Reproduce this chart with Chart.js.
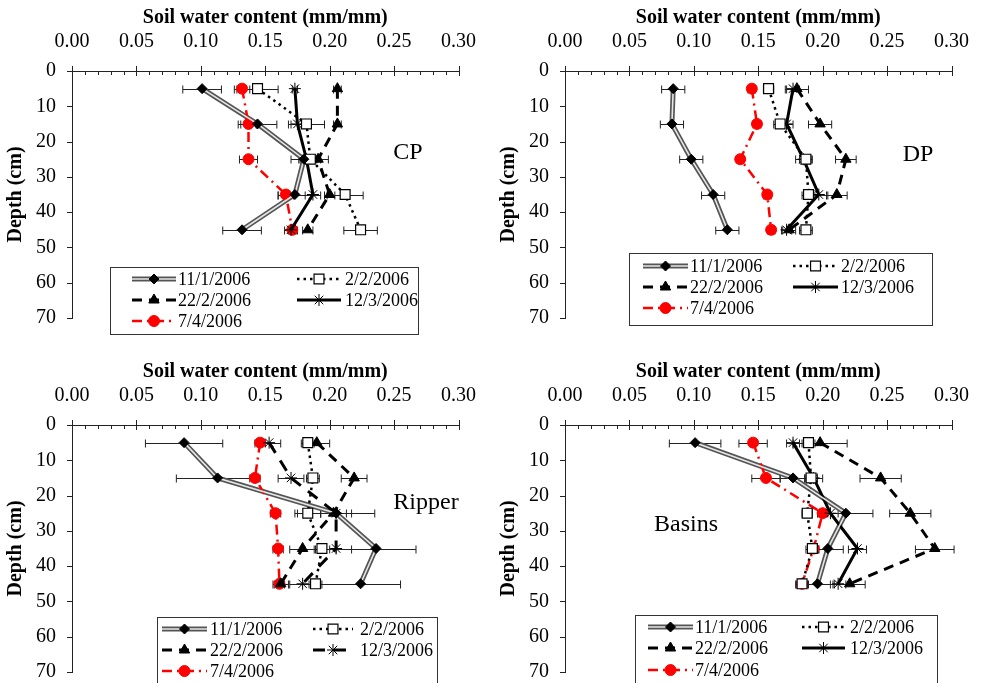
<!DOCTYPE html>
<html>
<head>
<meta charset="utf-8">
<script src="https://cdn.jsdelivr.net/npm/chart.js@4.4.1/dist/chart.umd.min.js"></script>
<style>
html, body { margin: 0; padding: 0; background: #fff; overflow: hidden; width: 982px; height: 683px; }
.panel { position: absolute; width: 493px; height: 354px; }
</style>
</head>
<body>
<div class="panel" style="left:0;top:0"><canvas id="cp" width="493" height="354"></canvas></div>
<div class="panel" style="left:493px;top:0"><canvas id="dp" width="493" height="354"></canvas></div>
<div class="panel" style="left:0;top:354px"><canvas id="rp" width="493" height="354"></canvas></div>
<div class="panel" style="left:493px;top:354px"><canvas id="bs" width="493" height="354"></canvas></div>
<script>
const depths = [5, 15, 25, 35, 45];
const dates = ['11/1/2006', '2/2/2006', '22/2/2006', '12/3/2006', '7/4/2006'];
const swcTicks = [0, 0.05, 0.10, 0.15, 0.20, 0.25, 0.30];
const depthTicks = [0, 10, 20, 30, 40, 50, 60, 70];

// rows follow dates order: 11/1, 2/2, 22/2, 12/3, 7/4 ; columns follow depths
const cpSwc = [
    [0.101, 0.144, 0.180, 0.173, 0.132],
    [0.144, 0.182, 0.185, 0.212, 0.224],
    [0.206, 0.206, 0.191, 0.200, 0.183],
    [0.173, 0.175, 0.182, 0.187, 0.170],
    [0.132, 0.137, 0.137, 0.166, 0.171]
];
const cpErr = [
    [0.015, 0.015, 0.010, 0.013, 0.015],
    [0.016, 0.014, 0.008, 0.014, 0.013],
    [0.003, 0.003, 0.008, 0.004, 0.004],
    [0.002, 0.005, 0.006, 0.006, 0.005],
    [0.006, 0.006, 0.007, 0.006, 0.003]
];
const dpSwc = [
    [0.084, 0.083, 0.098, 0.115, 0.126],
    [0.158, 0.167, 0.187, 0.189, 0.187],
    [0.180, 0.198, 0.218, 0.211, 0.174],
    [0.177, 0.172, 0.185, 0.197, 0.172],
    [0.145, 0.149, 0.136, 0.157, 0.160]
];
const dpErr = [
    [0.009, 0.009, 0.009, 0.009, 0.009],
    [0.004, 0.005, 0.005, 0.005, 0.005],
    [0.009, 0.009, 0.008, 0.008, 0.005],
    [0.005, 0.005, 0.006, 0.007, 0.004],
    [0.003, 0.003, 0.003, 0.003, 0.003]
];
const rpSwc = [
    [0.087, 0.113, 0.205, 0.236, 0.224],
    [0.183, 0.187, 0.183, 0.194, 0.189],
    [0.190, 0.219, 0.203, 0.179, 0.162],
    [0.153, 0.170, 0.205, 0.205, 0.179],
    [0.146, 0.142, 0.158, 0.160, 0.161]
];
const rpErr = [
    [0.030, 0.032, 0.030, 0.031, 0.031],
    [0.005, 0.005, 0.010, 0.006, 0.005],
    [0.010, 0.010, 0.010, 0.010, 0.006],
    [0.009, 0.010, 0.012, 0.012, 0.010],
    [0.004, 0.004, 0.004, 0.004, 0.004]
];
const bsSwc = [
    [0.101, 0.177, 0.218, 0.204, 0.196],
    [0.189, 0.191, 0.188, 0.192, 0.184],
    [0.198, 0.245, 0.268, 0.287, 0.221],
    [0.177, 0.193, 0.206, 0.227, 0.212],
    [0.146, 0.156, 0.200, 0.193, 0.184]
];
const bsErr = [
    [0.020, 0.010, 0.021, 0.012, 0.012],
    [0.005, 0.005, 0.004, 0.005, 0.005],
    [0.021, 0.016, 0.016, 0.015, 0.012],
    [0.005, 0.007, 0.006, 0.007, 0.006],
    [0.011, 0.011, 0.004, 0.004, 0.004]
];

const serif = '"Liberation Serif", "Times New Roman", serif';

function styles(dash12) {
    return [
        {borderColor: '#e6e6e6', borderWidth: 1.6, pointStyle: 'rectRot', pointRadius: 5, pointBackgroundColor: '#000', pointBorderColor: '#000', pointBorderWidth: 1},
        {borderColor: '#000', borderWidth: 2.5, borderDash: [2.5, 4], pointStyle: 'rect', pointRadius: 7, pointBackgroundColor: '#fff', pointBorderColor: '#000', pointBorderWidth: 1.2},
        {borderColor: '#000', borderWidth: 3, borderDash: [10, 7], pointStyle: 'triangle', pointRadius: 6, pointBackgroundColor: '#000', pointBorderColor: '#000', pointBorderWidth: 1},
        {borderColor: '#000', borderWidth: 3, borderDash: dash12 ? [12, 9] : [], pointStyle: 'star', pointRadius: 6, pointBackgroundColor: '#000', pointBorderColor: '#000', pointBorderWidth: 1},
        {borderColor: '#ff0000', borderWidth: 2.5, borderDash: [10, 5, 2, 5], pointStyle: 'circle', pointRadius: 5.5, pointBackgroundColor: '#ff0000', pointBorderColor: '#ff0000', pointBorderWidth: 1}
    ];
}

const errorBars = {
    id: 'errorBars',
    beforeDatasetsDraw(chart) {
        const ctx = chart.ctx, xs = chart.scales.x, ys = chart.scales.y;
        ctx.save();
        ctx.strokeStyle = '#222';
        ctx.lineWidth = 1;
        ctx.setLineDash([]);
        chart.data.datasets.forEach(ds => {
            if (!ds.errs) return;
            ds.data.forEach((p, i) => {
                const y = Math.round(ys.getPixelForValue(p.y)) + 0.5;
                const x1 = xs.getPixelForValue(p.x - ds.errs[i]);
                const x2 = xs.getPixelForValue(p.x + ds.errs[i]);
                ctx.beginPath();
                ctx.moveTo(x1, y); ctx.lineTo(x2, y);
                ctx.moveTo(x1, y - 4); ctx.lineTo(x1, y + 4);
                ctx.moveTo(x2, y - 4); ctx.lineTo(x2, y + 4);
                ctx.stroke();
            });
        });
        ctx.restore();
    }
};

const tickMarks = {
    id: 'tickMarks',
    afterDraw(chart) {
        const ctx = chart.ctx, xs = chart.scales.x, ys = chart.scales.y;
        const top = chart.chartArea.top, left = chart.chartArea.left;
        ctx.save();
        ctx.strokeStyle = '#222';
        ctx.lineWidth = 1;
        ctx.beginPath();
        for (let i = 0; i <= 30; i++) {
            const x = Math.round(xs.getPixelForValue(i / 100)) + 0.5;
            if (i % 5 == 0) { ctx.moveTo(x, top - 5); ctx.lineTo(x, top + 5); }
            else { ctx.moveTo(x, top); ctx.lineTo(x, top + 4); }
        }
        depthTicks.forEach(d => {
            const y = Math.round(ys.getPixelForValue(d)) + 0.5;
            ctx.moveTo(left - 5, y); ctx.lineTo(left, y);
        });
        ctx.stroke();
        ctx.restore();
    }
};

const boxLegend = {
    id: 'boxLegend',
    afterDraw(chart, args, o) {
        const ctx = chart.ctx;
        const sets = chart.data.datasets;
        ctx.save();
        ctx.fillStyle = '#fff';
        ctx.fillRect(o.box[0], o.box[1], o.box[2] - o.box[0], o.box[3] - o.box[1]);
        ctx.strokeStyle = '#333';
        ctx.lineWidth = 1;
        ctx.strokeRect(o.box[0] + 0.5, o.box[1] + 0.5, o.box[2] - o.box[0], o.box[3] - o.box[1]);
        ctx.font = '18px ' + serif;
        ctx.textBaseline = 'middle';
        dates.forEach((d, k) => {
            const col = o.cols[k % 2], y = o.rows[Math.floor(k / 2)];
            const ds = sets.find(s => s.label == d);
            const lines = k == 0 ? [sets.find(s => s.label == 'outline'), ds] : [ds];
            lines.forEach(l => {
                ctx.setLineDash(l.borderDash || []);
                ctx.lineWidth = l.borderWidth;
                ctx.strokeStyle = l.borderColor;
                ctx.beginPath();
                ctx.moveTo(col[0], y); ctx.lineTo(col[1], y);
                ctx.stroke();
            });
            ctx.setLineDash([]);
            ctx.fillStyle = ds.pointBackgroundColor;
            ctx.strokeStyle = ds.pointBorderColor;
            ctx.lineWidth = ds.pointBorderWidth;
            Chart.helpers.drawPoint(ctx, {pointStyle: ds.pointStyle, radius: ds.pointRadius, borderWidth: ds.pointBorderWidth, rotation: 0}, (col[0] + col[1]) / 2, y);
            ctx.fillStyle = '#000';
            ctx.fillText(d, col[2], y + 1);
        });
        ctx.restore();
    }
};

const panelTag = {
    id: 'panelTag',
    afterDraw(chart, args, o) {
        const ctx = chart.ctx;
        ctx.save();
        ctx.font = '24px ' + serif;
        ctx.fillStyle = '#000';
        ctx.textAlign = 'center';
        ctx.textBaseline = 'middle';
        ctx.fillText(o.text, o.x, o.y);
        ctx.restore();
    }
};

function makePanel(id, swc, err, tag, legend, dash12) {
    const st = styles(dash12);
    const sets = dates.map((d, k) => Object.assign({
        label: d,
        data: depths.map((dep, i) => ({x: swc[k][i], y: dep})),
        errs: err[k],
        tension: 0,
        fill: false
    }, st[k]));
    sets.push({label: 'outline', data: sets[0].data, borderColor: '#555', borderWidth: 5, pointRadius: 0, tension: 0, fill: false});

    new Chart(document.getElementById(id), {
        type: 'line',
        data: {datasets: sets},
        options: {
            responsive: false,
            animation: false,
            events: [],
            devicePixelRatio: 1,
            layout: {padding: {left: 0, top: 0, right: 30, bottom: 36}},
            plugins: {
                legend: {display: false},
                tooltip: {enabled: false},
                boxLegend: legend,
                panelTag: tag
            },
            scales: {
                x: {
                    type: 'linear',
                    position: 'top',
                    min: 0,
                    max: 0.3,
                    afterBuildTicks: s => { s.ticks = swcTicks.map(v => ({value: v})); },
                    afterFit: s => { s.height = 71; },
                    grid: {display: false, drawTicks: false},
                    border: {display: true, color: '#222', width: 1},
                    ticks: {padding: 17, color: '#000', maxRotation: 0, autoSkip: false, font: {family: serif, size: 20}, callback: v => v.toFixed(2)},
                    title: {display: true, text: 'Soil water content (mm/mm)', color: '#000', font: {family: serif, size: 20, weight: 'bold'}, padding: {top: 6, bottom: 0}}
                },
                y: {
                    type: 'linear',
                    reverse: true,
                    min: 0,
                    max: 70,
                    afterBuildTicks: s => { s.ticks = depthTicks.map(v => ({value: v})); },
                    afterFit: s => { s.width = 72; },
                    grid: {display: false, drawTicks: false},
                    border: {display: true, color: '#222', width: 1},
                    ticks: {padding: 16, color: '#000', autoSkip: false, font: {family: serif, size: 20}},
                    title: {display: true, text: 'Depth (cm)', color: '#000', font: {family: serif, size: 20, weight: 'bold'}, padding: {top: 4, bottom: 0}}
                }
            }
        },
        plugins: [errorBars, tickMarks, boxLegend, panelTag]
    });
}

makePanel('cp', cpSwc, cpErr, {text: 'CP', x: 408, y: 153},
    {box: [110, 267, 418, 334], rows: [279, 300, 321], cols: [[132, 176, 178], [297, 341, 345]]}, false);
makePanel('dp', dpSwc, dpErr, {text: 'DP', x: 425, y: 155},
    {box: [136, 253, 439, 325], rows: [266, 287, 308], cols: [[150, 195, 197], [300, 345, 348]]}, false);
makePanel('rp', rpSwc, rpErr, {text: 'Ripper', x: 426, y: 149},
    {box: [157, 263, 437, 330], rows: [275, 296, 317], cols: [[162, 207, 210], [313, 353, 360]]}, true);
makePanel('bs', bsSwc, bsErr, {text: 'Basins', x: 193, y: 171},
    {box: [142, 261, 444, 330], rows: [273, 294, 316], cols: [[155, 200, 202], [309, 352, 357]]}, false);
</script>
</body>
</html>
